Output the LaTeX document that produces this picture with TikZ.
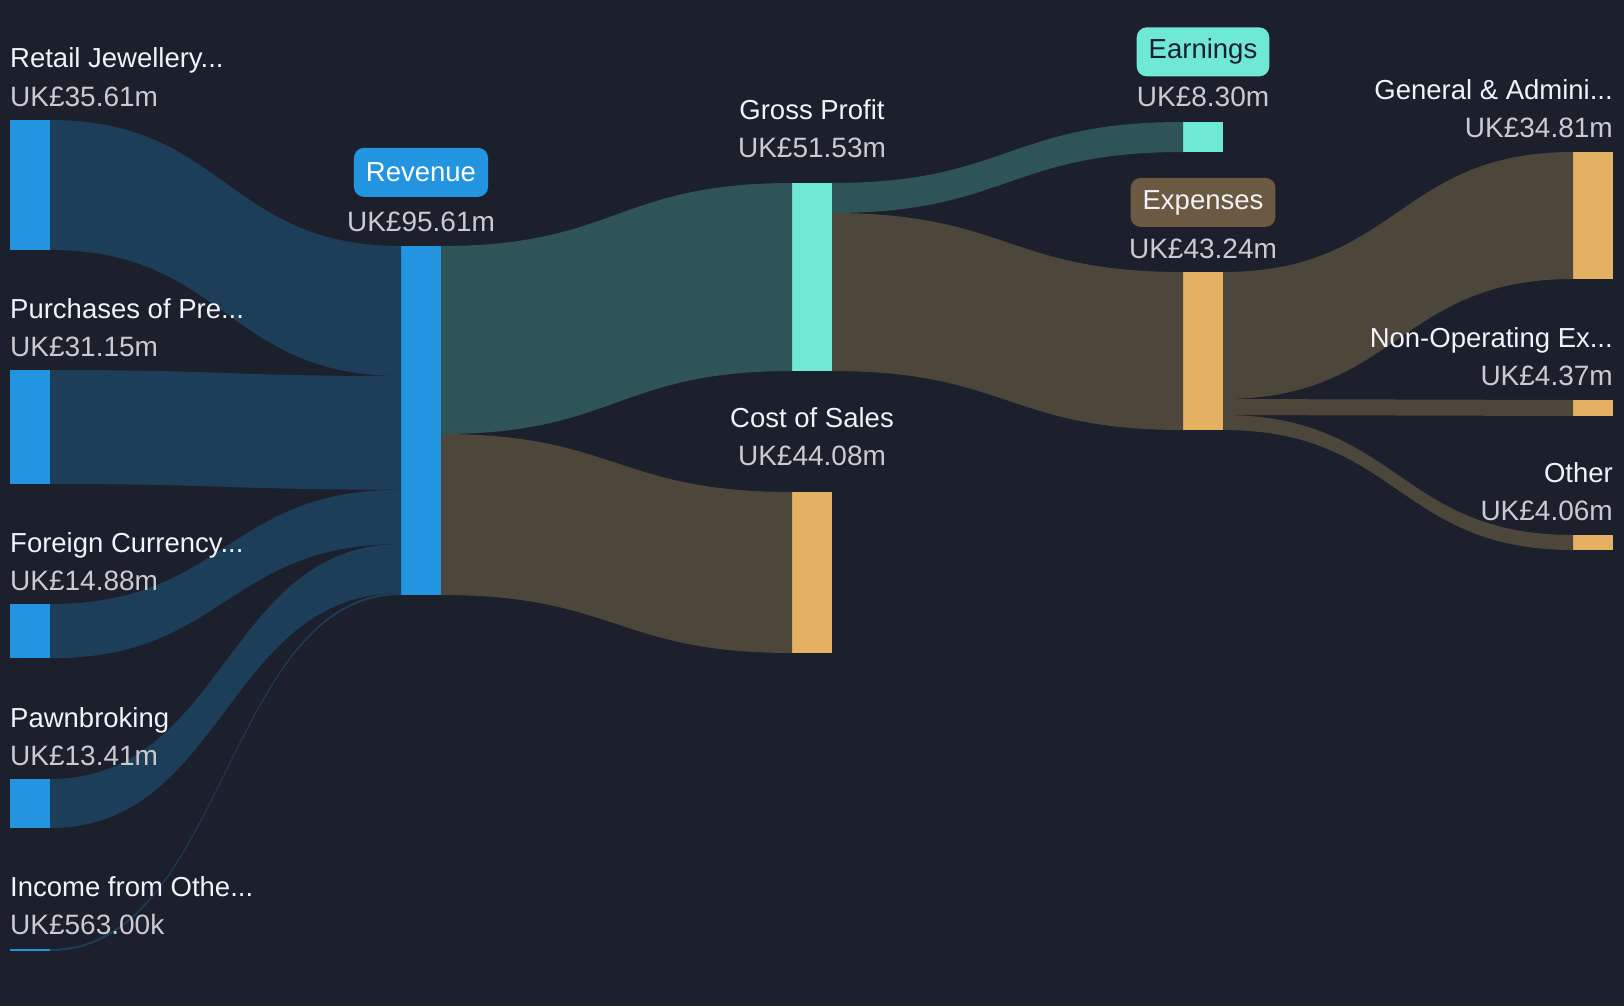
\documentclass[tikz,border=0pt]{standalone}
\usepackage{fontspec}
\setmainfont{Liberation Sans}
\usepackage{tikz}
\usetikzlibrary{positioning}

\definecolor{bg}{HTML}{1B202C}
\definecolor{revblue}{HTML}{2394DF}
\definecolor{revflow}{HTML}{1D3E59}
\definecolor{gpteal}{HTML}{6FE8D5}
\definecolor{gpflow}{HTML}{2F5457}
\definecolor{costbar}{HTML}{E4B062}
\definecolor{costflow}{HTML}{4D463B}
\definecolor{expbox}{HTML}{6B5A41}
\definecolor{lbltext}{HTML}{F0F3F8}
\definecolor{valtext}{HTML}{CBCBCF}

\tikzset{
  bar/.style={anchor=north west, minimum width=40pt, inner sep=0pt, outer sep=0pt},
  lbl/.style={text=lbltext, font=\fontsize{27.5}{32}\selectfont, inner sep=0pt},
  val/.style={text=valtext, font=\fontsize{28}{32}\selectfont, inner sep=0pt},
  tag/.style={rounded corners=10pt, minimum height=49pt, inner xsep=12pt, inner ysep=0pt, font=\fontsize{27.5}{32}\selectfont, anchor=base},
}
\newcommand{\band}[5]{\fill[#1] (#2) .. controls +(175,0) and +(-175,0) .. (#4) -- (#5) .. controls +(-175,0) and +(175,0) .. (#3) -- cycle;}

\begin{document}
\begin{tikzpicture}[x=1pt,y=-1pt]
  \fill[bg] (0,0) rectangle (1624,1006);
  \useasboundingbox (0,0) rectangle (1624,1006);

  \node[bar, fill=revblue, minimum height=130pt] (retail) at (10,120) {};
  \node[bar, fill=revblue, minimum height=114pt] (purch) at (10,370) {};
  \node[bar, fill=revblue, minimum height=54.3pt] (forex) at (10,604) {};
  \node[bar, fill=revblue, minimum height=49pt] (pawn) at (10,779) {};
  \node[bar, fill=revblue, minimum height=2pt] (income) at (10,949) {};
  \node[bar, fill=revblue, minimum height=349pt] (rev) at (401,246) {};
  \node[bar, fill=gpteal, minimum height=188pt] (gp) at (792,183) {};
  \node[bar, fill=costbar, minimum height=161pt] (cos) at (792,492) {};
  \node[bar, fill=gpteal, minimum height=30pt] (earn) at (1183,122) {};
  \node[bar, fill=costbar, minimum height=158pt] (exp) at (1183,272) {};
  \node[bar, fill=costbar, minimum height=127pt] (ga) at (1573,152) {};
  \node[bar, fill=costbar, minimum height=16pt] (nonop) at (1573,400) {};
  \node[bar, fill=costbar, minimum height=15pt] (other) at (1573,535) {};

  \path (rev.north west) ++(0,130) coordinate (rv1) ++(0,113.7) coordinate (rv2)
        ++(0,54.3) coordinate (rv3) ++(0,49) coordinate (rv4);
  \path (rev.north east) ++(0,188) coordinate (rv5);
  \path (gp.north east) ++(0,30) coordinate (gp1);
  \path (exp.north east) ++(0,127) coordinate (ex1) ++(0,16) coordinate (ex2);

  \band{revflow}{retail.north east}{retail.south east}{rev.north west}{rv1}
  \band{revflow}{purch.north east}{purch.south east}{rv1}{rv2}
  \band{revflow}{forex.north east}{forex.south east}{rv2}{rv3}
  \band{revflow}{pawn.north east}{pawn.south east}{rv3}{rv4}
  \band{revflow}{income.north east}{income.south east}{rv4}{rev.south west}
  \band{gpflow}{rev.north east}{rv5}{gp.north west}{gp.south west}
  \band{costflow}{rv5}{rev.south east}{cos.north west}{cos.south west}
  \band{gpflow}{gp.north east}{gp1}{earn.north west}{earn.south west}
  \band{costflow}{gp1}{gp.south east}{exp.north west}{exp.south west}
  \band{costflow}{exp.north east}{ex1}{ga.north west}{ga.south west}
  \band{costflow}{ex1}{ex2}{nonop.north west}{nonop.south west}
  \band{costflow}{ex2}{exp.south east}{other.north west}{other.south west}

  \node[val, above=13.5pt of retail.north west, anchor=base west] (retailV) {UK£35.61m};
  \node[lbl, above=38.5pt of retailV.base west, anchor=base west] (retailL) {Retail Jewellery...};
  \node[val, above=13.5pt of purch.north west, anchor=base west] (purchV) {UK£31.15m};
  \node[lbl, above=38.5pt of purchV.base west, anchor=base west] (purchL) {Purchases of Pre...};
  \node[val, above=13.5pt of forex.north west, anchor=base west] (forexV) {UK£14.88m};
  \node[lbl, above=38.5pt of forexV.base west, anchor=base west] (forexL) {Foreign Currency...};
  \node[val, above=13.5pt of pawn.north west, anchor=base west] (pawnV) {UK£13.41m};
  \node[lbl, above=38.5pt of pawnV.base west, anchor=base west] (pawnL) {Pawnbroking};
  \node[val, above=14.5pt of income.north west, anchor=base west] (incomeV) {UK£563.00k};
  \node[lbl, above=38.5pt of incomeV.base west, anchor=base west] (incomeL) {Income from Othe...};

  \node[val, above=14.3pt of rev.north, anchor=base] (revV) {UK£95.61m};
  \node[tag, fill=revblue, text=white, above=50pt of revV.base, anchor=base] (revT) {Revenue};

  \node[val, above=25.7pt of gp.north, anchor=base] (gpV) {UK£51.53m};
  \node[lbl, above=37.3pt of gpV.base, anchor=base] (gpL) {Gross Profit};
  \node[val, above=27pt of cos.north, anchor=base] (cosV) {UK£44.08m};
  \node[lbl, above=37.7pt of cosV.base, anchor=base] (cosL) {Cost of Sales};

  \node[val, above=15pt of earn.north, anchor=base] (earnV) {UK£8.30m};
  \node[tag, fill=gpteal, text=bg, above=50pt of earnV.base, anchor=base, yshift=-2pt] (earnT) {Earnings};
  \node[val, above=14pt of exp.north, anchor=base] (expV) {UK£43.24m};
  \node[tag, fill=expbox, text=lbltext, above=49pt of expV.base, anchor=base] (expT) {Expenses};

  \node[val, above=14.5pt of ga.north east, anchor=base east] (gaV) {UK£34.81m};
  \node[lbl, above=37.5pt of gaV.base east, anchor=base east] (gaL) {General \& Admini...};
  \node[val, above=14.5pt of nonop.north east, anchor=base east] (nonopV) {UK£4.37m};
  \node[lbl, above=38.5pt of nonopV.base east, anchor=base east] (nonopL) {Non-Operating Ex...};
  \node[val, above=14.5pt of other.north east, anchor=base east] (otherV) {UK£4.06m};
  \node[lbl, above=38pt of otherV.base east, anchor=base east] (otherL) {Other};
\end{tikzpicture}
\end{document}
